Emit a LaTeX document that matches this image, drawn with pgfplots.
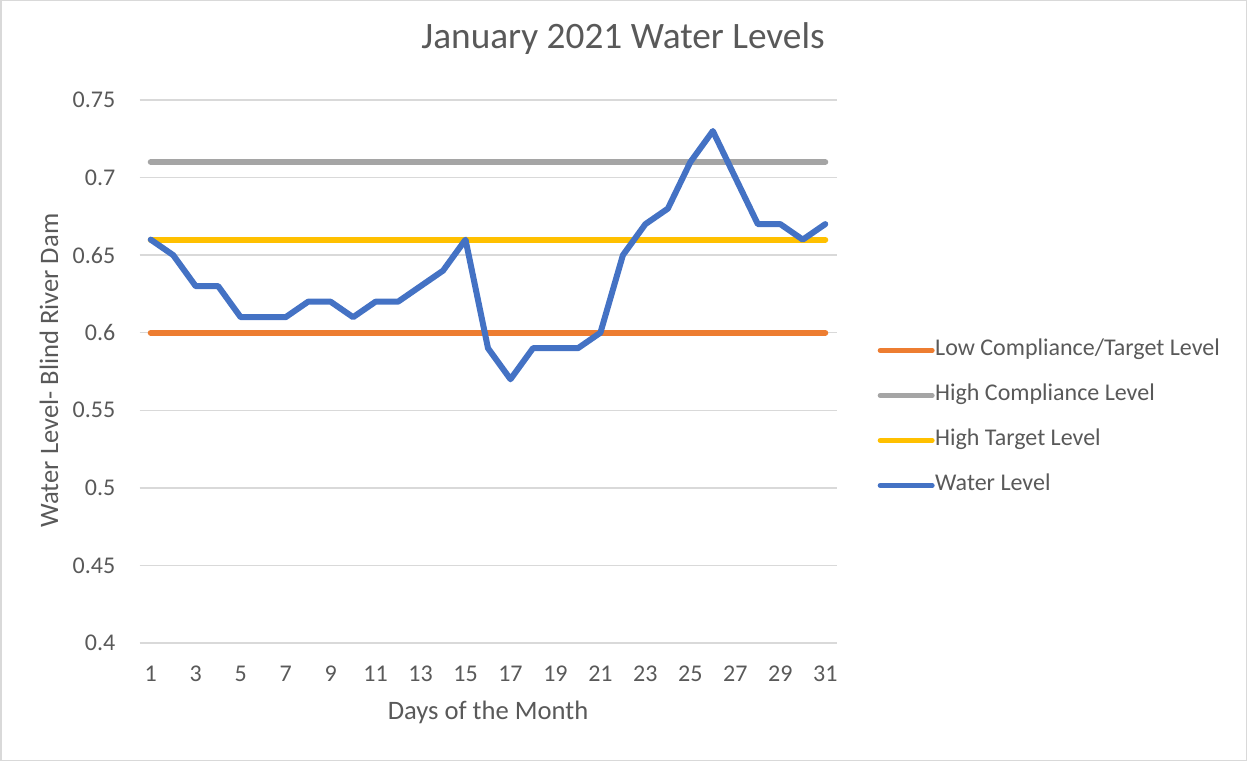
\documentclass[border=0pt]{standalone}
\usepackage{fontspec}
\setmainfont{Carlito}
\usepackage{pgfplots}
\pgfplotsset{compat=1.18}
\definecolor{txt}{HTML}{595959}
\definecolor{gridc}{HTML}{D9D9D9}
\definecolor{cOrange}{HTML}{ED7D31}
\definecolor{cGray}{HTML}{A5A5A5}
\definecolor{cYellow}{HTML}{FFC000}
\definecolor{cBlue}{HTML}{4472C4}
\begin{document}
\begin{tikzpicture}
\useasboundingbox (0pt,0pt) rectangle (1247pt,761pt);
\draw[gridc, line width=1.5pt] (0.75pt,0.75pt) rectangle (1246.25pt,760.25pt);
\begin{axis}[
  at={(139.5pt,118pt)}, anchor=south west,
  scale only axis, width=697pt, height=543pt,
  xmin=0.5, xmax=31.5, ymin=0.4, ymax=0.75,
  axis line style={draw=none},
  xmajorgrids=false, ymajorgrids=true,
  grid style={color=gridc, line width=1.5pt},
  major tick length=0pt, tick style={draw=none},
  xtick={1,3,5,7,9,11,13,15,17,19,21,23,25,27,29,31},
  xticklabels={1,3,5,7,9,11,13,15,17,19,21,23,25,27,29,31},
  ytick={0.4,0.45,0.5,0.55,0.6,0.65,0.7,0.75},
  yticklabels={0.4,0.45,0.5,0.55,0.6,0.65,0.7,0.75},
  /pgf/number format/assume math mode=true,
  ticklabel style={font=\fontsize{24}{28}\selectfont, text=txt, inner sep=0pt},
  xticklabel style={anchor=base, yshift=-38pt},
  yticklabel style={anchor=east, xshift=-24pt},
  title={January 2021 Water Levels},
  title style={at={(axis description cs:0.6937,1.0829)}, anchor=base, inner sep=0pt, xshift=0pt, yshift=0pt, font=\fontsize{37.3}{44}\selectfont, text=txt},
  xlabel={Days of the Month},
  xlabel style={at={(axis description cs:0.5,-0.140)}, anchor=base, inner sep=0pt, font=\fontsize{26.6}{32}\selectfont, text=txt},
  ylabel={Water Level- Blind River Dam},
  ylabel style={at={(axis description cs:-0.1169,0.5018)}, anchor=base, inner sep=0pt, font=\fontsize{26.6}{32}\selectfont, text=txt},
  legend style={at={(axis description cs:1.0588,0.4144)}, anchor=west, draw=none, fill=none, inner sep=0pt,
    font=\fontsize{24}{28}\selectfont, text=txt, row sep=24pt,
    nodes={inner sep=0pt, text height=16pt, text depth=5pt}},
  legend cell align=left,
  legend image code/.code={\draw[line width=5pt, line cap=round] (0pt,0pt) -- (52pt,0pt);},
  every axis plot/.append style={line width=6pt, line cap=round, line join=round, no markers},
]
\addplot[cOrange] coordinates {(1,0.6) (31,0.6)};
\addlegendentry{\hspace{0.5pt}Low Compliance/Target Level}
\addplot[cGray] coordinates {(1,0.71) (31,0.71)};
\addlegendentry{\hspace{0.5pt}High Compliance Level}
\addplot[cYellow] coordinates {(1,0.66) (31,0.66)};
\addlegendentry{\hspace{0.5pt}High Target Level}
\addplot[cBlue] coordinates {
(1,0.66) (2,0.65) (3,0.63) (4,0.63) (5,0.61) (6,0.61) (7,0.61) (8,0.62)
(9,0.62) (10,0.61) (11,0.62) (12,0.62) (13,0.63) (14,0.64) (15,0.66) (16,0.59)
(17,0.57) (18,0.59) (19,0.59) (20,0.59) (21,0.60) (22,0.65) (23,0.67) (24,0.68)
(25,0.71) (26,0.73) (27,0.70) (28,0.67) (29,0.67) (30,0.66) (31,0.67)};
\addlegendentry{\hspace{0.5pt}Water Level}
\end{axis}
\end{tikzpicture}
\end{document}
